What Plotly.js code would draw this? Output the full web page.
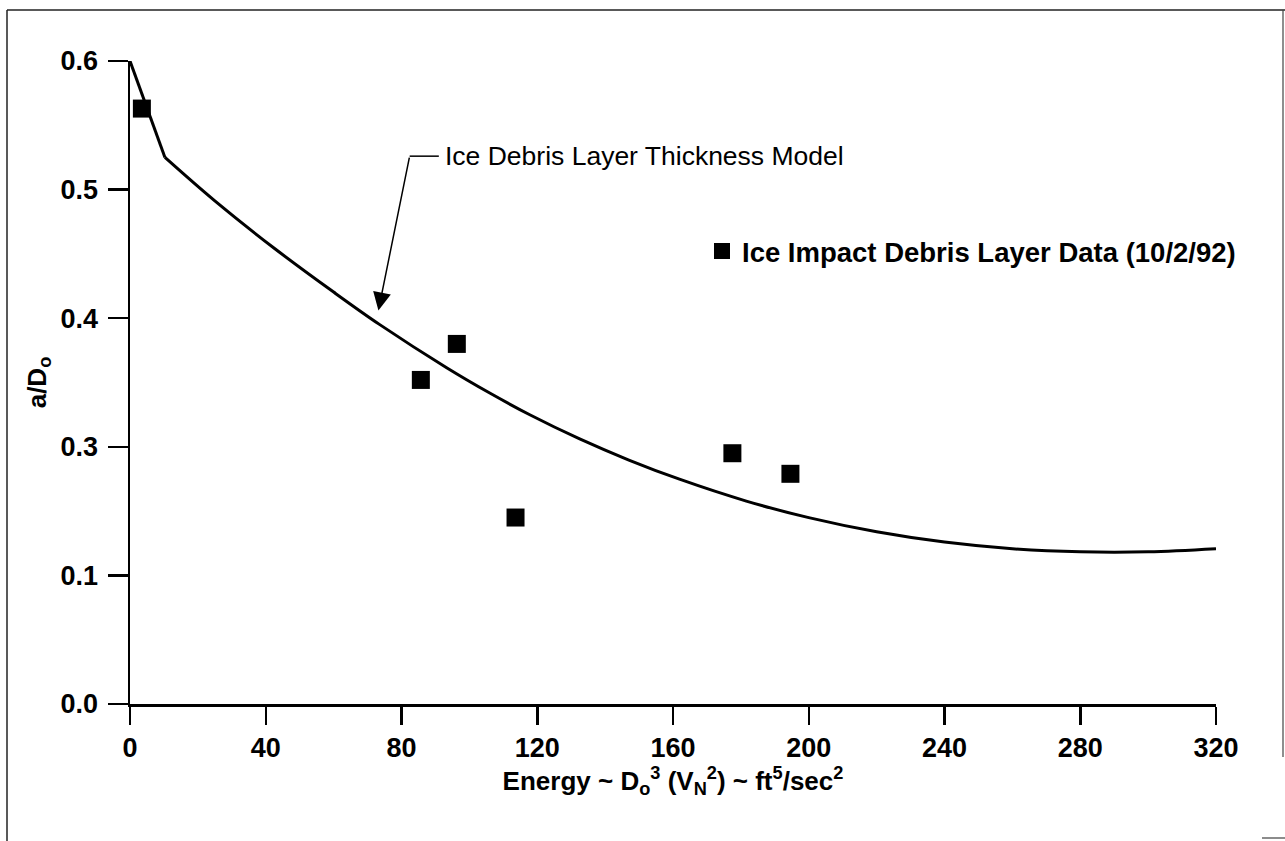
<!DOCTYPE html>
<html><head><meta charset="utf-8">
<script src="https://cdn.plot.ly/plotly-3.0.1.min.js"></script>
<style>html,body{margin:0;padding:0;background:#fff}#chart{width:1285px;height:841px}</style>
</head><body><div id="chart"></div>
<script>
// Model curve (a/Do vs energy)
const modelEnergy = [0, 10.3, 25, 42.7, 60, 73.6, 93.3, 106, 117.8, 132.5, 147, 161.9, 181.6, 200, 220, 240, 260, 280, 300, 320];
const modelRatio  = [0.6, 0.525, 0.4912, 0.454, 0.4203, 0.395, 0.3615, 0.3418, 0.3249, 0.3061, 0.2897, 0.2748, 0.2578, 0.2449, 0.2339, 0.2259, 0.2207, 0.2183, 0.2183, 0.2207];
// Measured data points
const dataEnergy = [3.5, 85.7, 96.3, 113.6, 177.5, 194.6];
const dataRatio  = [0.563, 0.352, 0.380, 0.245, 0.295, 0.279];
// Tick labels as printed on the original
const xTickVals = [0, 40, 80, 120, 160, 200, 240, 280, 320];
const yTickVals = [0.1, 0.2, 0.3, 0.4, 0.5, 0.6];
const yTickText = ["0.0", "0.1", "0.3", "0.4", "0.5", "0.6"];
const modelLabel = "Ice Debris Layer Thickness Model";
const dataLabel = "Ice Impact Debris Layer Data (10/2/92)";

const FONT = "Liberation Sans, Arial, Helvetica, sans-serif";

// straight initial segment up to the kink, smooth curve afterwards
const traces = [
  {x: modelEnergy.slice(0, 2), y: modelRatio.slice(0, 2), mode: 'lines', type: 'scatter',
   line: {color: '#000', width: 3}, showlegend: false, hoverinfo: 'skip', cliponaxis: false},
  {x: modelEnergy.slice(1), y: modelRatio.slice(1), mode: 'lines', type: 'scatter',
   line: {color: '#000', width: 3, shape: 'spline', smoothing: 1},
   showlegend: false, hoverinfo: 'skip', cliponaxis: false},
  {x: dataEnergy, y: dataRatio, mode: 'markers', type: 'scatter', name: dataLabel,
   marker: {symbol: 'square', size: 18, color: '#000'}, cliponaxis: false}
];

// paper-coordinate helpers for the scanned frame decoration
const L = 130, R = 1216, T = 61, B = 704;
const px = v => (v - L) / (R - L);
const py = v => (B - v) / (B - T);

const layout = {
  width: 1285, height: 841,
  margin: {l: L, r: 1285 - R, t: T, b: 841 - B},
  paper_bgcolor: '#fff', plot_bgcolor: '#fff',
  font: {family: FONT, color: '#000'},
  xaxis: {
    range: [0, 320], autorange: false, tickvals: xTickVals,
    showgrid: false, zeroline: false, showline: true, linecolor: '#000', linewidth: 2.5,
    ticks: 'outside', ticklen: 18, tickwidth: 2.5, tickcolor: '#000',
    tickfont: {family: FONT, size: 27, weight: 'bold'},
    title: {text: 'Energy ~ D<sub>o</sub><sup>3</sup> (V<sub>N</sub><sup>2</sup>) ~ ft<sup>5</sup>/sec<sup>2</sup>',
            font: {family: FONT, size: 26, weight: 'bold'}, standoff: 1}
  },
  yaxis: {
    range: [0.1, 0.6], autorange: false, tickvals: yTickVals, ticktext: yTickText,
    showgrid: false, zeroline: false, showline: true, linecolor: '#000', linewidth: 2.5,
    ticks: 'outside', ticklen: 20, tickwidth: 2.5, tickcolor: '#000',
    ticklabelstandoff: 4,
    tickfont: {family: FONT, size: 27, weight: 'bold'},
    title: {text: 'a/D<sub>o</sub>', font: {family: FONT, size: 26, weight: 'bold'}, standoff: 7}
  },
  showlegend: true,
  legend: {x: px(702), y: py(251), xanchor: 'left', yanchor: 'middle',
           font: {family: FONT, size: 27.5, weight: 'bold'}, bgcolor: 'rgba(0,0,0,0)',
           itemwidth: 30, borderwidth: 0},
  annotations: [
    {x: 92.1, y: 0.526, xref: 'x', yref: 'y', text: modelLabel, showarrow: false,
     xanchor: 'left', yanchor: 'middle', font: {family: FONT, size: 26.5, color: '#000'}},
    {x: 73.2, y: 0.406, xref: 'x', yref: 'y', ax: 82.4, ay: 0.526, axref: 'x', ayref: 'y',
     text: '', showarrow: true, arrowhead: 2, arrowsize: 2.4, arrowwidth: 1.5, arrowcolor: '#000', standoff: 0}
  ],
  shapes: [
    {type: 'line', xref: 'x', yref: 'y', x0: 82.4, x1: 91.0, y0: 0.526, y1: 0.526, line: {color: '#000', width: 1.5}},
    {type: 'line', xref: 'paper', yref: 'paper', x0: px(7), x1: px(7), y0: py(10), y1: py(841), line: {color: '#222', width: 1.5}},
    {type: 'line', xref: 'paper', yref: 'paper', x0: px(7), x1: px(1285), y0: py(10), y1: py(10), line: {color: '#222', width: 1.5}},
    {type: 'line', xref: 'paper', yref: 'paper', x0: px(1283), x1: px(1283), y0: py(10), y1: py(757), line: {color: '#444', width: 1.2}},
    {type: 'line', xref: 'paper', yref: 'paper', x0: px(1262), x1: px(1285), y0: py(838), y1: py(838), line: {color: '#666', width: 1.5}}
  ]
};

Plotly.newPlot('chart', traces, layout, {displayModeBar: false, staticPlot: true});
</script>
</body></html>
